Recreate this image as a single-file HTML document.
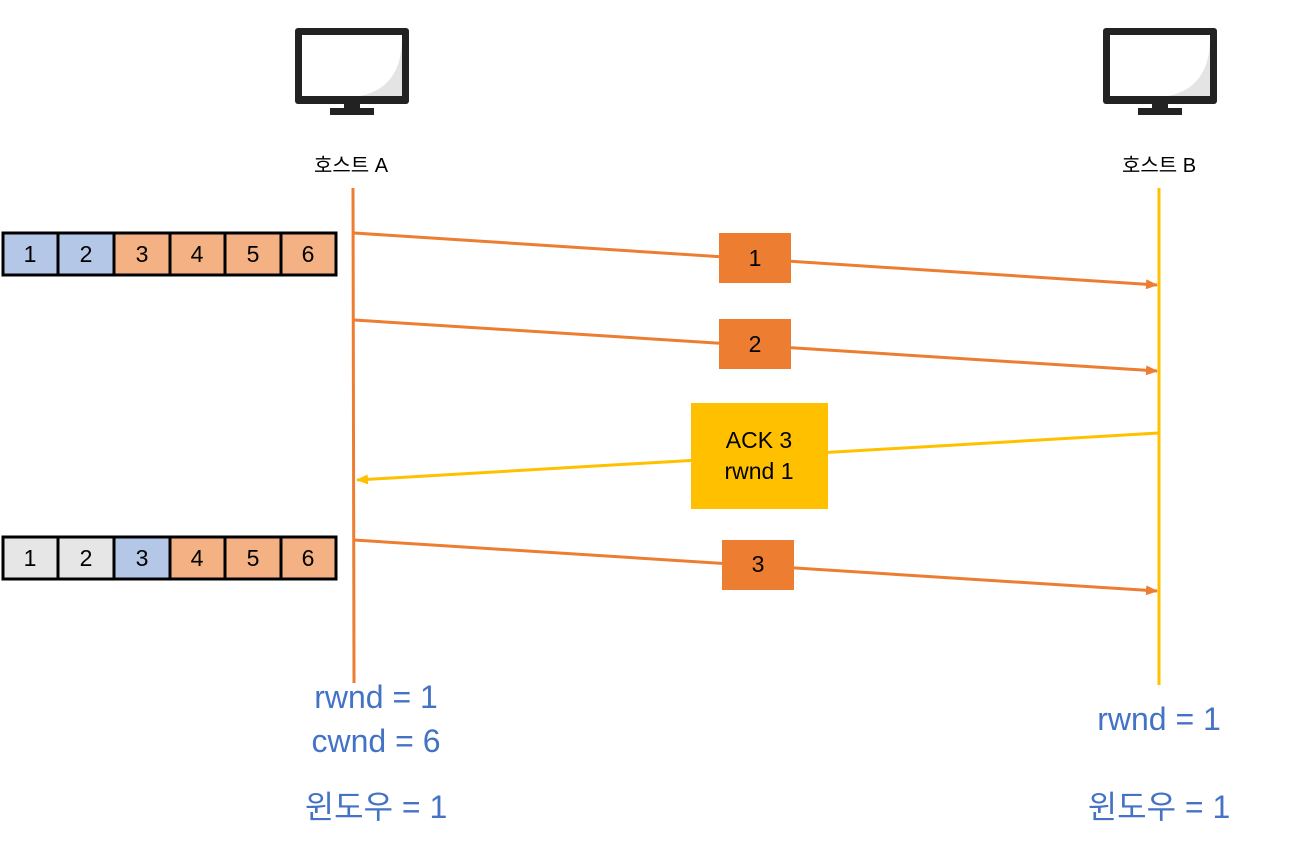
<!DOCTYPE html>
<html><head><meta charset="utf-8"><style>
body{margin:0;width:1294px;height:854px;background:#fff;overflow:hidden}
svg text{font-family:"Liberation Sans","Noto Sans CJK KR",sans-serif}
</style></head><body>
<svg width="1294" height="854" xmlns="http://www.w3.org/2000/svg">
<defs>
<marker id="ao" markerWidth="14" markerHeight="14" refX="11" refY="7" orient="auto" markerUnits="userSpaceOnUse"><path d="M0,2 L12,7 L0,12 z" fill="#ED7D31"/></marker>
<marker id="ay" markerWidth="14" markerHeight="14" refX="11" refY="7" orient="auto" markerUnits="userSpaceOnUse"><path d="M0,2 L12,7 L0,12 z" fill="#FFC000"/></marker>
</defs>
<g id="mon">
<rect x="295" y="28" width="114" height="76" rx="3" fill="#222"/>
<rect x="302" y="35" width="100" height="61" fill="#fff"/>
<path d="M402,42 Q400,88 360,96 L402,96 Z" fill="#e4e4e4"/>
<rect x="344" y="103" width="16" height="7" fill="#222"/>
<rect x="330" y="108" width="44" height="7" fill="#222"/>
</g>
<use href="#mon" x="808" y="0"/>
<text x="351" y="172" font-size="20" text-anchor="middle" fill="#000">호스트 A</text>
<text x="1159" y="172" font-size="20" text-anchor="middle" fill="#000">호스트 B</text>
<line x1="353" y1="188" x2="354" y2="683" stroke="#ED7D31" stroke-width="3"/>
<line x1="1159" y1="188" x2="1159" y2="685" stroke="#FFC000" stroke-width="3"/>
<g stroke="#000" stroke-width="3">
<rect x="3" y="233" width="55" height="42" fill="#B4C7E7"/><rect x="58" y="233" width="56" height="42" fill="#B4C7E7"/>
<rect x="114" y="233" width="56" height="42" fill="#F4B183"/><rect x="170" y="233" width="55" height="42" fill="#F4B183"/>
<rect x="225" y="233" width="56" height="42" fill="#F4B183"/><rect x="281" y="233" width="55" height="42" fill="#F4B183"/>
<rect x="3" y="537" width="55" height="42" fill="#E7E6E6"/><rect x="58" y="537" width="56" height="42" fill="#E7E6E6"/>
<rect x="114" y="537" width="56" height="42" fill="#B4C7E7"/><rect x="170" y="537" width="55" height="42" fill="#F4B183"/>
<rect x="225" y="537" width="56" height="42" fill="#F4B183"/><rect x="281" y="537" width="55" height="42" fill="#F4B183"/>
</g>
<g font-size="23" text-anchor="middle" fill="#000">
<text x="30" y="262">1</text><text x="86" y="262">2</text><text x="142" y="262">3</text><text x="197" y="262">4</text><text x="253" y="262">5</text><text x="308" y="262">6</text>
<text x="30" y="566">1</text><text x="86" y="566">2</text><text x="142" y="566">3</text><text x="197" y="566">4</text><text x="253" y="566">5</text><text x="308" y="566">6</text>
</g>
<g stroke-width="3" fill="none">
<line x1="354" y1="233" x2="1157" y2="285" stroke="#ED7D31" marker-end="url(#ao)"/>
<line x1="354" y1="320" x2="1157" y2="371" stroke="#ED7D31" marker-end="url(#ao)"/>
<line x1="1159" y1="433" x2="357" y2="480" stroke="#FFC000" marker-end="url(#ay)"/>
<line x1="354" y1="540" x2="1157" y2="591" stroke="#ED7D31" marker-end="url(#ao)"/>
</g>
<rect x="719" y="233" width="72" height="50" fill="#ED7D31"/>
<rect x="719" y="319" width="72" height="50" fill="#ED7D31"/>
<rect x="691" y="403" width="137" height="106" fill="#FFC000"/>
<rect x="722" y="540" width="72" height="50" fill="#ED7D31"/>
<g font-size="23" text-anchor="middle" fill="#000">
<text x="755" y="266">1</text><text x="755" y="352">2</text><text x="758" y="572">3</text>
<text x="759" y="448">ACK 3</text><text x="759" y="479">rwnd 1</text>
</g>
<g font-size="32" text-anchor="middle" fill="#4472C4">
<text x="376" y="708">rwnd = 1</text><text x="376" y="752">cwnd = 6</text><text x="376" y="818">윈도우 = 1</text>
<text x="1159" y="730">rwnd = 1</text><text x="1159" y="818">윈도우 = 1</text>
</g>
</svg>
</body></html>
